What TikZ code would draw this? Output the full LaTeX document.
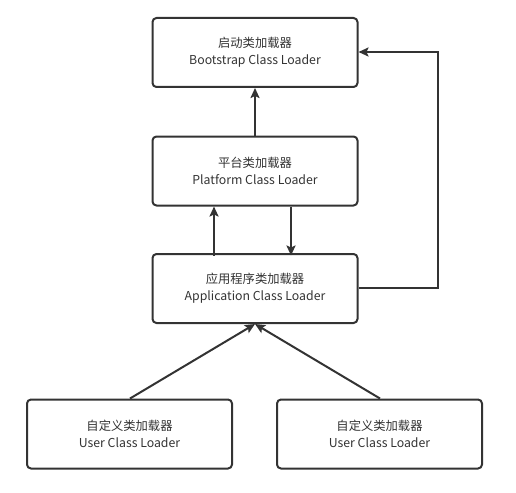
\documentclass[tikz,border=0pt]{standalone}
\usepackage{fontspec}
\setmainfont{Noto Sans CJK SC}
\usetikzlibrary{arrows.meta}
\definecolor{ln}{HTML}{333333}
\begin{document}
\begin{tikzpicture}[x=1pt,y=-1pt,
  box/.style={draw=ln,line width=2pt,rounded corners=4pt,minimum width=205pt,minimum height=69pt,align=center,font=\fontsize{12.3pt}{17pt}\selectfont,text=ln,inner sep=0pt},
  conn/.style={draw=ln,line width=2pt,-{Stealth[length=10pt,width=9pt,inset=2pt]}}]
\useasboundingbox (0,0) rectangle (516,492);
\node[box] (boot) at (255,52.5) {启动类加载器\\Bootstrap Class Loader};
\node[box] (plat) at (255,171) {平台类加载器\\Platform Class Loader};
\node[box] (app) at (255,288.5) {应用程序类加载器\\Application Class Loader};
\node[box] (u1) at (129.5,434) {自定义类加载器\\User Class Loader};
\node[box] (u2) at (379.5,434) {自定义类加载器\\User Class Loader};
\coordinate (c1) at (438,288);
\coordinate (c2) at (438,52);
\draw[conn] (plat.north) -- (boot.south);
\draw[conn] (plat.south -| 214,0) ++(0,49) -- ++(0,-49);
\draw[conn] (plat.south -| 291,0) -- ++(0,49);
\draw[conn] (u1.north -| 130,0) -- (app.south);
\draw[conn] (u2.north -| 380,0) -- (app.south);
\draw[conn] (app.east |- c1) -- (c1) -- (c2) -- (boot.east |- c2);
\end{tikzpicture}
\end{document}
